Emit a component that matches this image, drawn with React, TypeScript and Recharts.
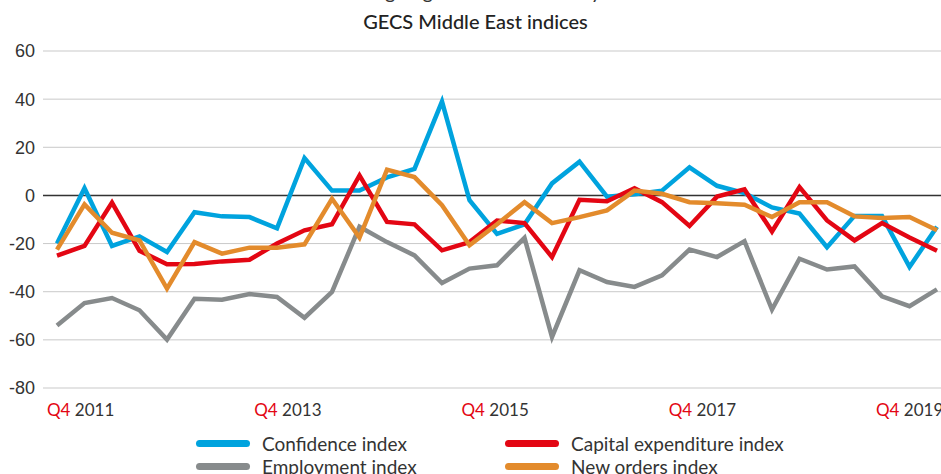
import {
  CartesianGrid,
  Legend,
  Line,
  LineChart,
  ReferenceLine,
  XAxis,
  YAxis,
} from "recharts";

// Quarterly GECS indices, Q4 2011 → Q4 2019.
const QUARTERS = [
  "Q4 2011", "Q1 2012", "Q2 2012", "Q3 2012", "Q4 2012",
  "Q1 2013", "Q2 2013", "Q3 2013", "Q4 2013",
  "Q1 2014", "Q2 2014", "Q3 2014", "Q4 2014",
  "Q1 2015", "Q2 2015", "Q3 2015", "Q4 2015",
  "Q1 2016", "Q2 2016", "Q3 2016", "Q4 2016",
  "Q1 2017", "Q2 2017", "Q3 2017", "Q4 2017",
  "Q1 2018", "Q2 2018", "Q3 2018", "Q4 2018",
  "Q1 2019", "Q2 2019", "Q3 2019", "Q4 2019",
];

const CONFIDENCE = [
  -20, 3, -21, -17, -23.5, -7, -8.7, -9, -13.7, 15.5, 2, 2, 7.5, 11, 39, -2,
  -16, -12, 5, 14, -0.5, 0.5, 2, 11.7, 4, 1, -5, -7.5, -21.5, -8.5, -8.5,
  -29.7, -13,
];
const CAPEX = [
  -25, -21, -3, -23, -28.6, -28.5, -27.4, -26.7, -20, -14.5, -12, 8.3, -11,
  -12, -22.8, -19.4, -10.4, -11.5, -25.6, -1.8, -2.4, 3, -2.8, -12.7, -0.5,
  2.5, -15, 3.5, -10.4, -18.7, -11.5, -17.5, -23,
];
const EMPLOYMENT = [
  -54, -44.7, -42.6, -47.7, -59.9, -42.9, -43.3, -41, -42.2, -50.8, -40.1,
  -13, -19.4, -24.9, -36.4, -30.4, -29, -17.6, -58.8, -31.1, -36, -38, -33.2,
  -22.5, -25.6, -19, -47.4, -26.3, -30.8, -29.5, -41.9, -46, -39,
];
const NEW_ORDERS = [
  -22.5, -3.7, -15.5, -18.7, -38.7, -19.4, -24.2, -21.7, -21.7, -20.3, -1.4,
  -17.5, 10.7, 7.6, -4.1, -20.7, -12, -2.8, -11.5, -9, -6.2, 2, 0.7, -2.8,
  -3.2, -3.9, -9, -2.8, -2.8, -8.7, -9.4, -9, -14.5,
];
const Y_TICKS = [-80, -60, -40, -20, 0, 20, 40, 60];

const SERIES = [
  { key: "employment", name: "Employment index", color: "#878b8c" },
  { key: "confidence", name: "Confidence index", color: "#00a3de" },
  { key: "capex", name: "Capital expenditure index", color: "#e30613" },
  { key: "orders", name: "New orders index", color: "#e38b2c" },
];
const LEGEND_ORDER = ["confidence", "capex", "employment", "orders"];

const LABEL_FONT = "Lato, 'Open Sans', sans-serif";

function QuarterTick(props: any) {
  const { x, y, payload, index } = props;
  const [q, year] = String(payload.value).split(" ");
  // labels in the source sit slightly left of their data point, drifting more toward the right
  const shift = -10 - 12.75 * index;
  return (
    <text
      x={x + shift}
      y={y}
      dy={20}
      textAnchor="start"
      fontFamily={LABEL_FONT}
      fontSize={17}
    >
      <tspan fill="#e30613">{q}</tspan>
      <tspan fill="#333"> {year}</tspan>
    </text>
  );
}

function LegendBox() {
  const items = LEGEND_ORDER.map((k) => SERIES.find((s) => s.key === k)!);
  return (
    <div
      style={{
        display: "grid",
        gridTemplateColumns: "309px 309px",
        rowGap: 3,
        paddingLeft: 196,
        fontFamily: LABEL_FONT,
        fontSize: 19,
        color: "#333",
      }}
    >
      {items.map((s) => (
        <div key={s.key} style={{ display: "flex", alignItems: "center", height: 20 }}>
          <span
            style={{
              display: "inline-block",
              width: 54,
              height: 7,
              borderRadius: 4,
              background: s.color,
              marginRight: 12,
            }}
          />
          <span>{s.name}</span>
        </div>
      ))}
    </div>
  );
}

export default function App() {
  const data = QUARTERS.map((quarter, i) => ({
    quarter,
    confidence: CONFIDENCE[i],
    capex: CAPEX[i],
    employment: EMPLOYMENT[i],
    orders: NEW_ORDERS[i],
  }));

  return (
    <div
      style={{
        position: "absolute",
        left: 0,
        top: 0,
        width: 941,
        height: 474,
        overflow: "hidden",
        background: "#fff",
      }}
    >
      <div
        style={{
          position: "absolute",
          top: -21,
          left: 0,
          width: 951,
          textAlign: "center",
          fontFamily: LABEL_FONT,
          fontSize: 20,
          color: "#333",
        }}
      >
        Weighing in on the economy
      </div>
      <div
        style={{
          position: "absolute",
          top: 9,
          left: 0,
          width: 951,
          textAlign: "center",
          fontFamily: LABEL_FONT,
          fontSize: 20,
          fontWeight: 500,
          color: "#222",
        }}
      >
        GECS Middle East indices
      </div>
      <LineChart
        width={941}
        height={474}
        data={data}
        margin={{ top: 51, right: 0, bottom: 56, left: 0 }}
      >
        <CartesianGrid vertical={false} stroke="#c9c9c9" strokeWidth={1} />
        <XAxis
          dataKey="quarter"
          interval={7}
          padding={{ left: 14, right: 4 }}
          axisLine={false}
          tickLine={false}
          height={30}
          tick={<QuarterTick />}
        />
        <YAxis
          domain={[-80, 60]}
          ticks={Y_TICKS}
          width={43}
          axisLine={false}
          tickLine={false}
          tick={{ fill: "#333", fontSize: 18, fontFamily: "'Liberation Sans', Arial, sans-serif" }}
        />
        <ReferenceLine y={0} stroke="#333" strokeWidth={1.5} />
        {SERIES.map((s) => (
          <Line
            key={s.key}
            dataKey={s.key}
            name={s.name}
            stroke={s.color}
            strokeWidth={4.5}
            dot={false}
            type="linear"
            isAnimationActive={false}
          />
        ))}
        <Legend
          layout="horizontal"
          verticalAlign="middle"
          align="center"
          wrapperStyle={{ top: 433, left: 0, width: 941 }}
          content={() => <LegendBox />}
        />
      </LineChart>
    </div>
  );
}
